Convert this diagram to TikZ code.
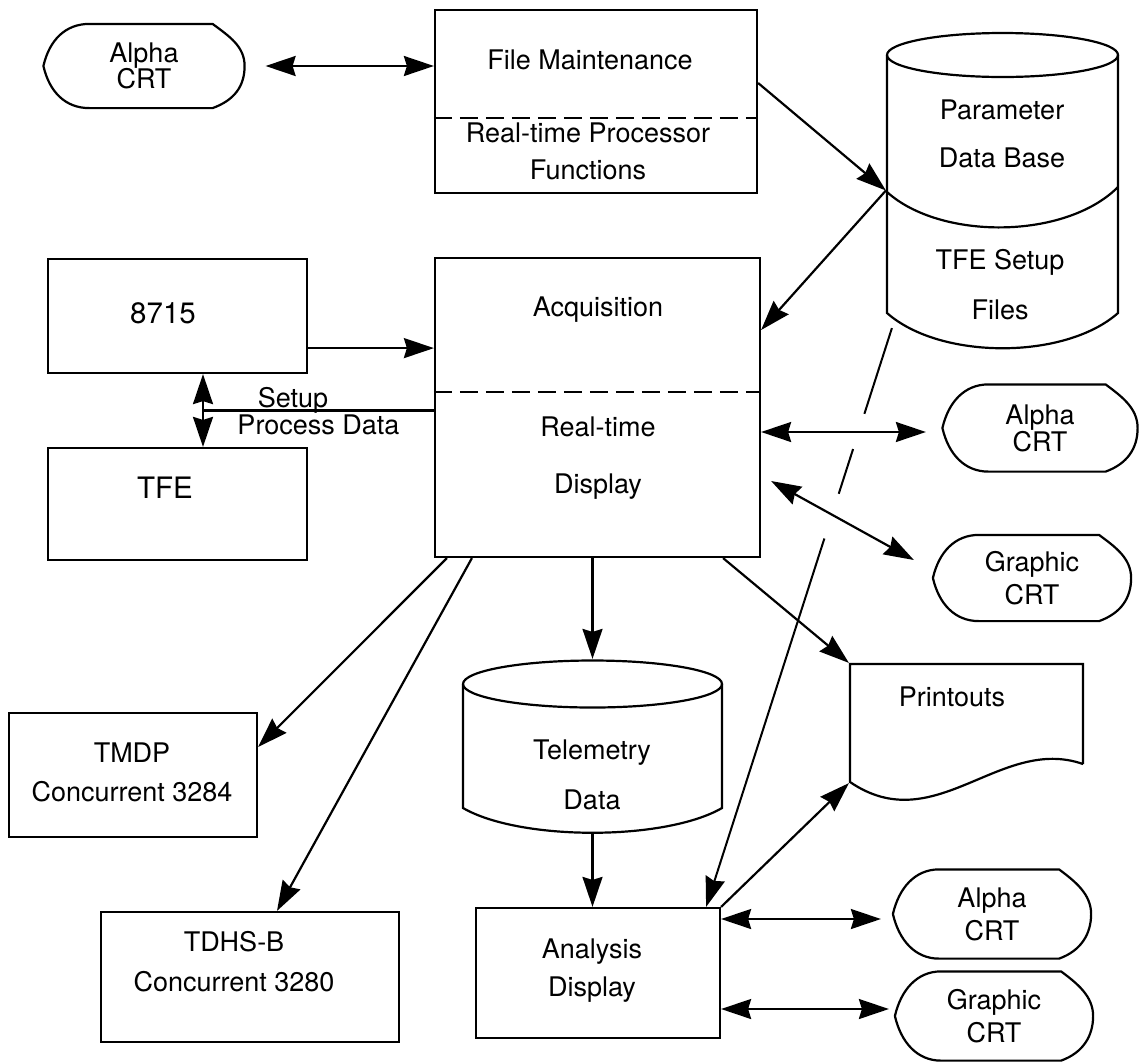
\documentclass[tikz,border=0pt]{standalone}
\usepackage{fontspec}
\setmainfont{TeX Gyre Heros}
\usetikzlibrary{arrows.meta, positioning, calc}
\tikzset{
  every picture/.style={line width=2.2pt},
  box/.style={draw, inner sep=0pt},
  store/.style={inner sep=0pt},
  crt/.style={inner sep=0pt, align=center},
  txt/.style={align=center, inner sep=0pt},
  big/.style={font=\fontsize{29.5}{35}\selectfont},
  split/.style={dash pattern=on 18pt off 8pt},
  longdash/.style={line width=2pt, dash pattern=on 90pt off 37pt on 47pt off 47pt on 900pt},
  arrow/.style={-{Stealth[length=30pt, width=20pt, inset=3pt]}},
  biarrow/.style={{Stealth[length=30pt, width=20pt, inset=3pt]}-{Stealth[length=30pt, width=20pt, inset=3pt]}},
}
% outline of a display (CRT) symbol round a named node
\newcommand\crtoutline[1]{%
  \draw (#1.west) .. controls ($(#1.west)+(6,-26)$) and ($(#1.north west)+(22,0)$) .. ($(#1.north west)+(46,0)$)
    -- ($(#1.north east)+(-32,0)$)
    .. controls ($(#1.north east)+(-16,12)$) and ($(#1.east)+(0,-20)$) .. (#1.east)
    .. controls ($(#1.east)+(0,20)$) and ($(#1.south east)+(-10,-8)$) .. ($(#1.south east)+(-32,0)$)
    -- ($(#1.south west)+(46,0)$)
    .. controls ($(#1.south west)+(22,0)$) and ($(#1.west)+(6,26)$) .. (#1.west);}

\begin{document}
\begin{tikzpicture}[x=1pt, y=-1pt, line width=2.2pt, font=\fontsize{27}{32}\selectfont]
  \useasboundingbox (0,0) rectangle (1139,1061);
  % processor boxes
  \node[box, minimum width=322pt, minimum height=183pt] (fm) at (596,101.5) {};
  \draw[split] ([yshift=-16.5pt]fm.west) -- ([yshift=-16.5pt]fm.east);
  \node[txt] (fm-a) at (590,60) {File Maintenance};
  \node[txt] (fm-b) at (588,151) {Real-time Processor\\[5pt]Functions};
  \node[box, minimum width=325pt, minimum height=299pt] (acq) at (597.5,407.5) {};
  \draw[split] ([yshift=15.5pt]acq.west) -- ([yshift=15.5pt]acq.east);
  \node[txt] (acq-a) at (598,310) {Acquisition};
  \node[txt] (acq-b) at (598,458) {Real-time\\[25pt]Display};
  \node[box, minimum width=259pt, minimum height=114pt] (b8715) at (177.5,316) {};
  \node[txt, big] (b8715-t) at (163,313) {8715};
  \node[box, minimum width=259pt, minimum height=112pt] (tfe) at (177.5,504) {};
  \node[txt, big] (tfe-t) at (165,488) {TFE};
  \node[box, minimum width=248pt, minimum height=124pt] (tmdp) at (133,775) {};
  \node[txt] (tmdp-t) at (132,772) {TMDP\\[7pt]Concurrent 3284};
  \node[box, minimum width=298pt, minimum height=130pt] (tdhs) at (250,977) {};
  \node[txt] (tdhs-t) at (234,962) {TDHS-B\\[8pt]Concurrent 3280};
  \node[box, minimum width=244pt, minimum height=130pt] (anl) at (598,973) {};
  \node[txt] (anl-t) at (592,971) {Analysis\\[6pt]Display};
  % data stores
  \node[store, minimum width=231pt, minimum height=315pt] (pdb) at (1002.5,190.5) {};
  \draw (887,55) -- (887,313) .. controls (940,360) and (1065,360) .. (1118,313) -- (1118,55);
  \draw (1002.5,55) ellipse [x radius=115.5, y radius=22];
  \draw (887,192) .. controls (940,240) and (1065,240) .. (1118,187);
  \node[txt] (pdb-a) at (1002,134) {Parameter\\[16pt]Data Base};
  \node[txt] (pdb-b) at (1000,285) {TFE Setup\\[18pt]Files};
  \node[store, minimum width=259pt, minimum height=173pt] (tlm) at (592.5,746.5) {};
  \draw (463,684) -- (463,808) .. controls (520,841) and (665,841) .. (722,808) -- (722,684);
  \draw (592.5,684) ellipse [x radius=129.5, y radius=23.5];
  \node[txt] (tlm-t) at (592,775) {Telemetry\\[18pt]Data};
  % printout
  \node[store, minimum width=233pt, minimum height=138pt] (prt) at (966.5,733) {};
  \draw (1083,764) -- (1083,664) -- (850,664) -- (850,782) .. controls (935,840) and (1000,735) .. (1083,764);
  \node[txt] (prt-t) at (952,697) {Printouts};
  % terminals
  \node[crt, minimum width=199pt, minimum height=82pt] (crtA1) at (144,66) {Alpha\\[-6pt]CRT};
  \crtoutline{crtA1}
  \node[crt, minimum width=193pt, minimum height=85pt] (crtA2) at (1040,428) {Alpha\\[-5pt]CRT};
  \crtoutline{crtA2}
  \node[crt, minimum width=196pt, minimum height=84pt] (crtG1) at (1032,578) {Graphic\\[1pt]CRT};
  \crtoutline{crtG1}
  \node[crt, minimum width=196pt, minimum height=87pt] (crtA3) at (992,914) {Alpha\\[1pt]CRT};
  \crtoutline{crtA3}
  \node[crt, minimum width=196pt, minimum height=87pt] (crtG4) at (994,1016) {Graphic\\[1pt]CRT};
  \crtoutline{crtG4}
  % connections
  \draw[biarrow, shorten <=21pt] (crtA1.east) -- (crtA1.east -| fm.west);
  \coordinate (in8715) at ([yshift=26pt]b8715.south east);
  \draw[arrow] (in8715) -- (in8715 -| acq.west);
  \coordinate (tfelink) at ([xshift=25.5pt]b8715.south);
  \draw[biarrow] (tfelink) -- (tfelink |- tfe.north);
  \coordinate (setupjoint) at ($(tfelink)!0.5!(tfelink |- tfe.north)$);
  \draw (setupjoint) -- node[pos=0.39, anchor=base, yshift=3.5pt, inner sep=0pt] (setup) {Setup}
    node[pos=0.5, anchor=base, yshift=-23.5pt, inner sep=0pt] (procdata) {Process Data} (setupjoint -| acq.west);
  \draw[arrow] ([yshift=18.5pt]fm.east) -- (pdb.west);
  \draw[arrow] (pdb.west) -- ([yshift=77.5pt]acq.east);
  \draw[longdash, arrow] ([shift={(6pt,21pt)}]pdb.south west) -- ([xshift=-15pt]anl.north east);
  \coordinate (acqalpha) at ([yshift=-24.5pt]acq.east);
  \draw[biarrow, shorten >=16.5pt] (acqalpha) -- (acqalpha -| crtA2.west);
  \draw[biarrow] ([shift={(10pt,-73.5pt)}]acq.east) -- ([shift={(-19pt,18pt)}]crtG1.west);
  \draw[arrow] ([xshift=13pt]acq.south west) -- ([yshift=28pt]tmdp.east);
  \draw[arrow] ([xshift=38pt]acq.south west) -- ([xshift=27pt]tdhs.north);
  \draw[arrow] (tlm.north |- acq.south) -- (tlm.north);
  \draw[arrow] (tlm.south) -- (tlm.south |- anl.north);
  \draw[arrow] ([xshift=-38pt]acq.south east) -- (prt.north west);
  \draw[arrow] (anl.north east) -- ([yshift=20pt]prt.south west);
  \coordinate (anlalpha) at ([yshift=54pt]anl.east);
  \draw[biarrow, shorten >=12pt] (anlalpha) -- (anlalpha -| crtA3.west);
  \coordinate (anlgraph) at ([yshift=-36pt]anl.east);
  \draw[biarrow, shorten >=6pt] (anlgraph) -- (anlgraph -| crtG4.west);
\end{tikzpicture}
\end{document}
